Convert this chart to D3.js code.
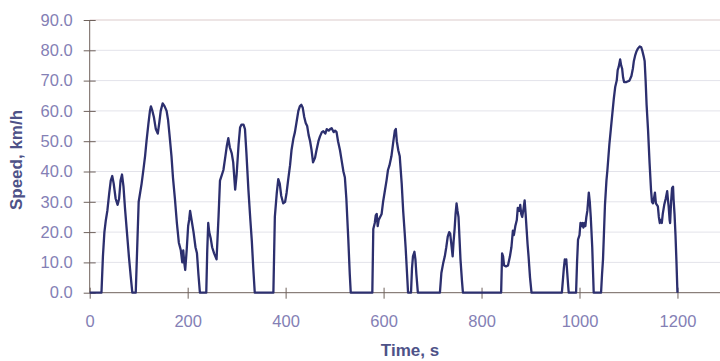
<!DOCTYPE html>
<html>
<head>
<meta charset="utf-8">
<script src="https://cdn.jsdelivr.net/npm/d3@7"></script>
<style>
	body { margin: 0; background: #fff; }
	#chart-area svg { display: block; font-family: "Liberation Sans", Arial, sans-serif; }
	.axis path, .axis line { stroke: #6f625c; }
	.axis text { fill: #8480b5; font-size: 16.5px; }
	.axis-title { fill: #4e5288; font-size: 17px; font-weight: bold; }
</style>
</head>
<body>
<div id="chart-area"></div>
<script>

// Time (s) and speed (km/h)
let times = [0, 24, 27, 30, 33, 36, 40, 43, 46, 49, 53, 57, 60, 63, 66, 69, 72, 76, 80, 84, 87,
	94, 97, 100, 103, 106, 110, 113, 116, 120, 123, 125, 128, 131, 135, 139, 142, 145, 149, 153, 157,
	160, 163, 167, 170, 174, 178, 182, 186, 189, 191, 193, 195, 198, 201, 203, 205, 208, 212, 216,
	219, 222, 225, 238, 240, 242, 244, 247, 250, 254, 259, 261, 263, 266, 270, 273, 277, 280, 283,
	286, 290, 293, 297, 300, 304, 307, 310, 314, 317, 320, 324, 328, 331, 334, 337, 375, 378, 382,
	385, 388, 391, 395, 399, 402, 405, 409, 412, 416, 419, 423, 426, 429, 432, 435, 438, 441, 444,
	447, 450, 453, 456, 460, 463, 467, 470, 474, 477, 481, 484, 488, 491, 494, 498, 501, 504, 507,
	511, 514, 518, 521, 524, 528, 531, 533, 577, 579, 582, 584, 586, 588, 590, 593, 596, 599, 602,
	606, 609, 612, 616, 620, 623, 625, 627, 630, 633, 637, 640, 643, 645, 648, 650, 656, 658, 660,
	663, 665, 667, 670, 715, 718, 722, 725, 728, 731, 734, 736, 739, 741, 743, 745, 747, 749, 751,
	753, 755, 757, 760, 762, 840, 842, 844, 846, 850, 854, 858, 861, 864, 866, 869, 872, 874, 877,
	879, 881, 883, 886, 888, 890, 892, 894, 896, 899, 902, 964, 966, 968, 970, 972, 973, 975, 977,
	978, 993, 995, 997, 1000, 1002, 1004, 1006, 1008, 1010, 1012, 1014, 1016, 1019, 1021, 1023, 1026,
	1028, 1029, 1044, 1046, 1048, 1050, 1052, 1055, 1057, 1061, 1064, 1067, 1070, 1073, 1076, 1078,
	1080, 1083, 1085, 1087, 1089, 1091, 1095, 1098, 1102, 1106, 1109, 1111, 1114, 1116, 1119, 1123,
	1126, 1128, 1131, 1133, 1135, 1137, 1140, 1143, 1146, 1148, 1150, 1152, 1154, 1156, 1158, 1160,
	1162, 1164, 1166, 1168, 1170, 1173, 1176, 1179, 1181, 1182, 1184, 1185, 1187, 1189, 1191, 1192,
	1194, 1196, 1198, 1200];

let speeds = [0, 0, 12, 20, 24, 27, 33, 37, 38.5, 36, 31, 29, 31, 37, 39, 35, 28, 20, 12, 5, 0,
	0, 15, 30, 33, 36, 41, 45, 50, 56, 60, 61.5, 60, 58, 54, 52.5, 56, 60, 62.5, 61.5, 60,
	57, 52, 45, 38, 31, 23, 16.5, 14, 10, 14, 10, 7.5, 14, 22, 24, 27, 24, 20, 15,
	13, 6, 0, 0, 14, 23, 20, 18, 15, 13, 11, 18, 25, 37, 39, 40.5, 45, 48.5, 51,
	48, 46, 43, 34, 39, 49, 54.5, 55.5, 55.5, 54, 46, 34, 24, 17, 8, 0, 0, 25, 33,
	37.5, 36, 32, 29.5, 30, 33, 37, 42, 47, 51, 53, 57, 60, 61.5, 62, 61, 58, 56, 55,
	52, 50, 47, 43, 44.5, 47, 50, 51.5, 53, 53.3, 52.5, 54, 53.5, 54, 54.3, 53, 53.5, 53, 50,
	47, 44, 40, 38, 31, 17.5, 6, 0, 0, 21, 23, 25.5, 26, 22, 24, 25, 26, 30, 33,
	37, 40.5, 42, 45, 50, 53.5, 54, 50, 47, 45, 36, 27, 20, 15, 6, 0, 0, 8, 12,
	13.5, 11, 6, 0, 0, 6.5, 10, 12, 15, 18.5, 20, 19.5, 15, 12, 17, 21, 26, 29.5, 27,
	25, 18, 11, 4, 0, 0, 13, 12, 9, 8.7, 9, 12, 15, 20.5, 19, 22, 24, 28, 27,
	29, 26, 25, 28, 30.5, 26, 21, 16, 12, 5, 0, 0, 4, 8, 11, 10, 11, 6.5, 2,
	0, 0, 10, 17.5, 19, 23, 22, 23, 21.5, 23, 22, 25, 27, 33, 30, 25, 15,
	5, 0, 0, 6, 11, 20, 29, 37, 40.5, 49, 54, 59, 64, 68, 70, 73.5,
	74.5, 77, 75, 74, 71, 69.5, 69.5, 69.7, 70, 71.5, 74, 76.5, 78.5, 79.5, 80.5, 81.3,
	81, 80, 78, 76.5, 70, 62, 53.5, 43, 34, 30, 29.5, 31, 33, 29.5, 29, 28.5,
	25, 23, 24, 23, 26, 29, 31, 33.5, 30, 28.5, 24, 23, 30, 34.5, 35, 31,
	26, 19, 10, 0];

// Tick values (the 1400 tick lies past the right edge)
let xTicks = [0, 200, 400, 600, 800, 1000, 1200];
let yTicks = [0, 10, 20, 30, 40, 50, 60, 70, 80, 90];

let data = times.map((t, i) => ({time: t, speed: speeds[i]}));

drawChart(data);

function drawChart(data){

	let margin = {top: 20, left: 89.7};
	let width = 720, height = 361;

	let svg = d3.select("#chart-area").append("svg")
		.attr("width", width)
		.attr("height", height);

	let g = svg.append("g")
		.attr("transform", "translate(" + margin.left + "," + margin.top + ")");

	// plot continues past the right edge
	let plotW = 0.4898 * 1400,
		plotH = 272.7;

	let x = d3.scaleLinear()
		.domain([0, 1400])
		.range([0, plotW]);

	let y = d3.scaleLinear()
		.domain([0, 90])
		.range([plotH, 0]);

	// grid lines
	g.selectAll(".grid")
		.data(yTicks.filter(d => d > 0))
		.enter()
		.append("line")
		.attr("class", "grid")
		.attr("x1", 0)
		.attr("x2", plotW)
		.attr("y1", d => y(d))
		.attr("y2", d => y(d))
		.attr("stroke", d => d === 90 ? "#dccbcb" : "#e3e3ea")
		.attr("stroke-width", 1);

	// axes
	let xAxis = d3.axisBottom(x)
		.tickValues(xTicks)
		.tickSize(6)
		.tickPadding(17)
		.tickFormat(d3.format("d"));

	let yAxis = d3.axisLeft(y)
		.tickValues(yTicks)
		.tickSize(6)
		.tickPadding(11)
		.tickFormat(d3.format(".1f"));

	let gx = g.append("g")
		.attr("class", "x axis")
		.attr("transform", "translate(0," + plotH + ")")
		.call(xAxis);
	gx.select(".domain").attr("d", "M0,0H" + plotW);
	gx.selectAll(".tick line").attr("y1", -5).attr("y2", 6);

	let gy = g.append("g")
		.attr("class", "y axis")
		.call(yAxis);
	gy.select(".domain").attr("d", "M0,0V" + plotH);
	gy.selectAll(".tick line").attr("x1", -6).attr("x2", 6);

	// speed trace
	let line = d3.line()
		.x(d => x(d.time))
		.y(d => y(d.speed));

	g.append("path")
		.datum(data)
		.attr("fill", "none")
		.attr("stroke", "#2c2f6e")
		.attr("stroke-width", 2.3)
		.attr("stroke-linejoin", "round")
		.attr("d", line);

	// axis titles
	svg.append("text")
		.attr("class", "axis-title")
		.attr("transform", "translate(22,160) rotate(-90)")
		.style("text-anchor", "middle")
		.text("Speed, km/h");

	svg.append("text")
		.attr("class", "axis-title")
		.attr("x", 410)
		.attr("y", 356)
		.style("text-anchor", "middle")
		.text("Time, s");
}

</script>
</body>
</html>
